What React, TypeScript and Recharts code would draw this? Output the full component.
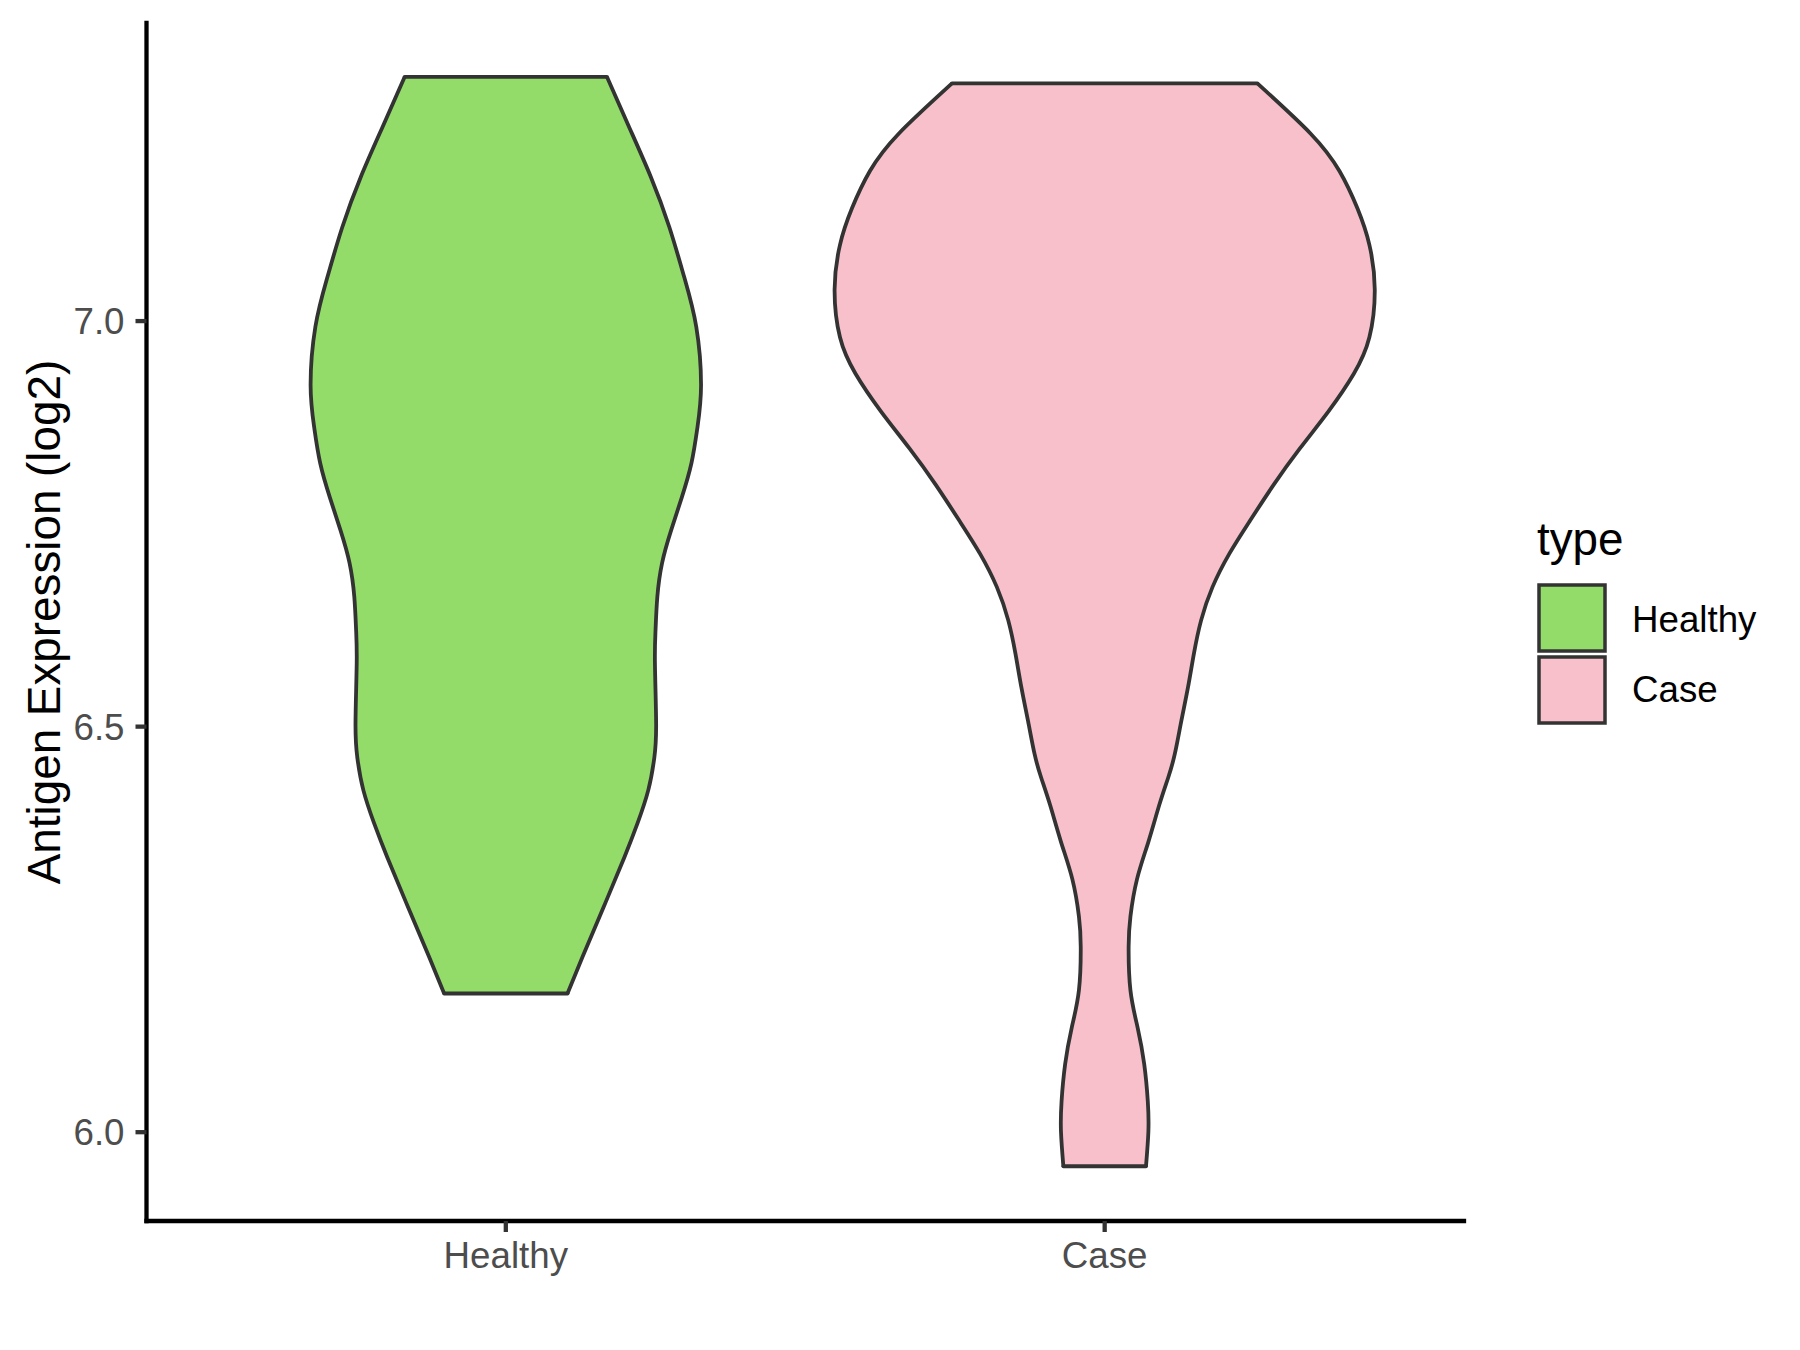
import React from 'react';
import { ComposedChart, Area, Line, XAxis, YAxis, Legend, Label } from 'recharts';

const FONT = '"Liberation Sans", Arial, sans-serif';

const categories = ['Healthy', 'Case'];
const fills = ['#93DC6A', '#F7C0CB'];
const outline = '#333333';

// violin outlines, top to bottom:
// expression value and half width of the violin (in category units)
const healthyValue = [7.301, 7.239, 7.178, 7.116, 7.054, 6.993, 6.921, 6.869, 6.825, 6.783, 6.742, 6.702, 6.66, 6.619, 6.578, 6.504, 6.462, 6.422, 6.381, 6.339, 6.277, 6.216, 6.171];
const healthyWidth = [0.169, 0.206, 0.242, 0.273, 0.298, 0.318, 0.326, 0.32, 0.31, 0.294, 0.276, 0.261, 0.253, 0.25, 0.249, 0.251, 0.248, 0.238, 0.22, 0.198, 0.163, 0.128, 0.103];

const caseValue = [7.293, 7.231, 7.185, 7.139, 7.094, 7.039, 6.98, 6.935, 6.889, 6.843, 6.798, 6.752, 6.713, 6.672, 6.631, 6.59, 6.548, 6.507, 6.466, 6.437, 6.403, 6.358, 6.312, 6.266, 6.229, 6.175, 6.129, 6.084, 6.038, 6.001, 5.958];
const caseWidth = [0.255, 0.344, 0.392, 0.422, 0.442, 0.451, 0.442, 0.416, 0.374, 0.326, 0.282, 0.241, 0.208, 0.18, 0.161, 0.149, 0.139, 0.128, 0.117, 0.106, 0.091, 0.073, 0.054, 0.043, 0.04, 0.043, 0.055, 0.066, 0.072, 0.073, 0.069];

const yTicks = [6.0, 6.5, 7.0];
const yDomain = [5.8905, 7.3675];
const xTicks = [1, 2];

const EMPTY = { healthy: [null, null], case: [null, null] };

const violinRows = (values: number[], widths: number[], pos: number, key: string) =>
  values.map((v, i) => ({ ...EMPTY, y: v, [key]: [pos - widths[i], pos + widths[i]] }));

// flat trimmed ends of a violin: one two-point series for the top and one for the bottom
const edgeRows = (values: number[], widths: number[], pos: number, key: string) => {
  const out: any[] = [];
  ([[0, 'Top'], [values.length - 1, 'Bottom']] as [number, string][]).forEach(([i, end]) => {
    out.push({ ...EMPTY, y: values[i], [key + end]: pos - widths[i] });
    out.push({ ...EMPTY, y: values[i], [key + end]: pos + widths[i] });
  });
  return out;
};

const data = [
  ...violinRows(healthyValue, healthyWidth, 1, 'healthy'),
  ...violinRows(caseValue, caseWidth, 2, 'case'),
  ...edgeRows(healthyValue, healthyWidth, 1, 'healthy'),
  ...edgeRows(caseValue, caseWidth, 2, 'case'),
];

const edgeKeys = ['healthyTop', 'healthyBottom', 'caseTop', 'caseBottom'];

const LegendBox = () => (
  <svg width={280} height={240} style={{ display: 'block' }}>
    <text x={17} y={45} fontSize={45.8} fontFamily={FONT} fill="#000">type</text>
    {categories.map((c, i) => (
      <g key={c}>
        <rect x={19} y={75 + i * 72} width={66} height={66} fill={fills[i]} stroke={outline} strokeWidth={3.5} />
        <text x={112} y={122 + i * 70} fontSize={36.7} fontFamily={FONT} fill="#000">{c}</text>
      </g>
    ))}
  </svg>
);

const YTitle = (props: any) => {
  const vb = props.viewBox || { x: 0, y: 23, width: 146, height: 1198 };
  const x = vb.x + 60;
  const y = vb.y + vb.height / 2;
  return (
    <text x={x} y={y} transform={`rotate(-90 ${x} ${y})`} textAnchor="middle" fontSize={45.8} fontFamily={FONT} fill="#000">
      Antigen Expression (log2)
    </text>
  );
};

export default function App() {
  return (
    <div style={{ position: 'absolute', left: 0, top: 0, width: 1800, height: 1350, background: '#fff' }}>
      <ComposedChart
        width={1800}
        height={1350}
        data={data}
        layout="vertical"
        margin={{ top: 23, right: 336, bottom: 0, left: 0 }}
        style={{ fontFamily: FONT }}
      >
        <XAxis
          type="number"
          domain={[0.4, 2.6]}
          allowDataOverflow
          ticks={xTicks}
          interval={0}
          tickFormatter={(v: number) => categories[v - 1]}
          height={129}
          axisLine={{ stroke: '#000', strokeWidth: 4.3, strokeLinecap: 'square' }}
          tickLine={{ stroke: outline, strokeWidth: 4.3 }}
          tickSize={11}
          tickMargin={10}
          tick={{ fill: '#4D4D4D', fontSize: 36.7, fontFamily: FONT }}
        />
        <YAxis
          type="number"
          dataKey="y"
          domain={yDomain}
          allowDataOverflow
          reversed
          ticks={yTicks}
          interval={0}
          tickFormatter={(v: number) => v.toFixed(1)}
          width={146.5}
          axisLine={{ stroke: '#000', strokeWidth: 4.3, strokeLinecap: 'square' }}
          tickLine={{ stroke: outline, strokeWidth: 4.3 }}
          tickSize={11}
          tickMargin={11}
          tick={{ fill: '#4D4D4D', fontSize: 36.7, fontFamily: FONT }}
        >
          <Label content={YTitle} />
        </YAxis>
        <Area
          dataKey="healthy"
          name="Healthy"
          type="natural"
          fill={fills[0]}
          fillOpacity={1}
          stroke={outline}
          strokeWidth={3.8}
          dot={false}
          activeDot={false}
          isAnimationActive={false}
        />
        <Area
          dataKey="case"
          name="Case"
          type="natural"
          fill={fills[1]}
          fillOpacity={1}
          stroke={outline}
          strokeWidth={3.8}
          dot={false}
          activeDot={false}
          isAnimationActive={false}
        />
        {edgeKeys.map((k) => (
          <Line
            key={k}
            dataKey={k}
            type="linear"
            connectNulls
            stroke={outline}
            strokeWidth={3.8}
            strokeLinecap="round"
            dot={false}
            activeDot={false}
            legendType="none"
            isAnimationActive={false}
          />
        ))}
        <Legend
          layout="vertical"
          align="center"
          verticalAlign="middle"
          wrapperStyle={{ left: 1520, top: 510, width: 280, height: 240 }}
          content={() => <LegendBox />}
        />
      </ComposedChart>
    </div>
  );
}
